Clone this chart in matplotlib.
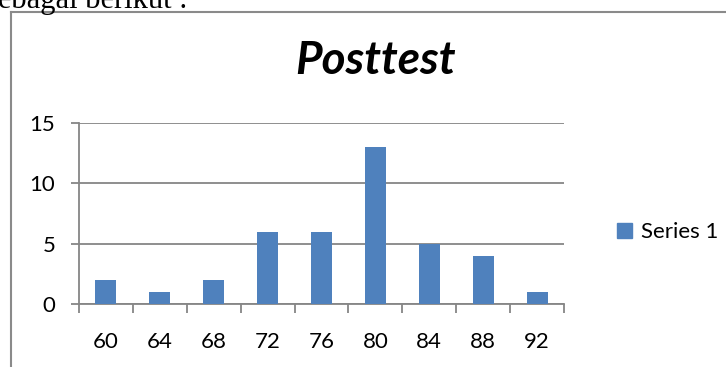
#!/usr/bin/env python3
"""Posttest score distribution as a bar chart, Excel style."""
import matplotlib
matplotlib.use("Agg")
import matplotlib.pyplot as plt
from matplotlib.lines import Line2D
from matplotlib.patches import Patch

# data
scores = ["60", "64", "68", "72", "76", "80", "84", "88", "92"]
counts = [2, 1, 2, 6, 6, 13, 5, 4, 1]
y_ticks = [0, 5, 10, 15]
series_name = "Series 1"
title = "Posttest"

W, H = 726, 367
BAR = "#4F81BD"
GRAY = "#868686"

plt.rcParams["font.family"] = ["Lato", "DejaVu Sans"]

fig = plt.figure(figsize=(W / 100, H / 100), dpi=100)


def fx(px):
    return px / W


def fy(py):
    return 1 - py / H


# plot area in pixels: x 79..564, y 123..304
ax = fig.add_axes([fx(79), fy(304), fx(564 - 79), (304 - 123) / H])
x = list(range(len(scores)))
ax.bar(x, counts, width=0.39, color=BAR, zorder=3)
ax.set_xlim(-0.5, len(scores) - 0.5)
ax.set_ylim(0, 15)
ax.set_yticks(y_ticks)
ax.set_yticklabels([str(v) for v in y_ticks], fontsize=16)
ax.set_xticks(x)
ax.set_xticklabels(scores, fontsize=16)
ax.set_xticks([i - 0.5 for i in range(len(scores) + 1)], minor=True)
ax.tick_params(axis="x", which="major", length=0, pad=20)
ax.tick_params(axis="x", which="minor", length=6.5, width=1.3, color=GRAY, direction="out")
ax.tick_params(axis="y", length=6, width=1.3, color=GRAY, pad=11)
ax.yaxis.grid(True, color=GRAY, linewidth=1.3, zorder=0)
for s in ("top", "right"):
    ax.spines[s].set_visible(False)
for s in ("left", "bottom"):
    ax.spines[s].set_color(GRAY)
    ax.spines[s].set_linewidth(1.3)

fig.text(fx(375), fy(61), title, fontsize=33, fontweight="bold", style="italic",
         ha="center", va="center")

fig.legend(handles=[Patch(color=BAR, label=series_name)], loc="center left",
           bbox_to_anchor=(fx(606), fy(232)), frameon=False, fontsize=16,
           handlelength=0.68, handleheight=0.68, handletextpad=0.4, borderpad=0)

# chart frame (only left and top visible in the crop)
fig.add_artist(Line2D([fx(10.5), fx(10.5)], [fy(11.5), 0], color="#8a8a8a", lw=1.5))
fig.add_artist(Line2D([fx(10.5), 1], [fy(11.5), fy(11.5)], color="#8a8a8a", lw=1.5))

# page text cut off at the top
fig.text(fx(-14), fy(8), "sebagai berikut :", fontsize=22, family="Liberation Serif",
         ha="left", va="baseline")

fig.savefig("out.png", dpi=100)
